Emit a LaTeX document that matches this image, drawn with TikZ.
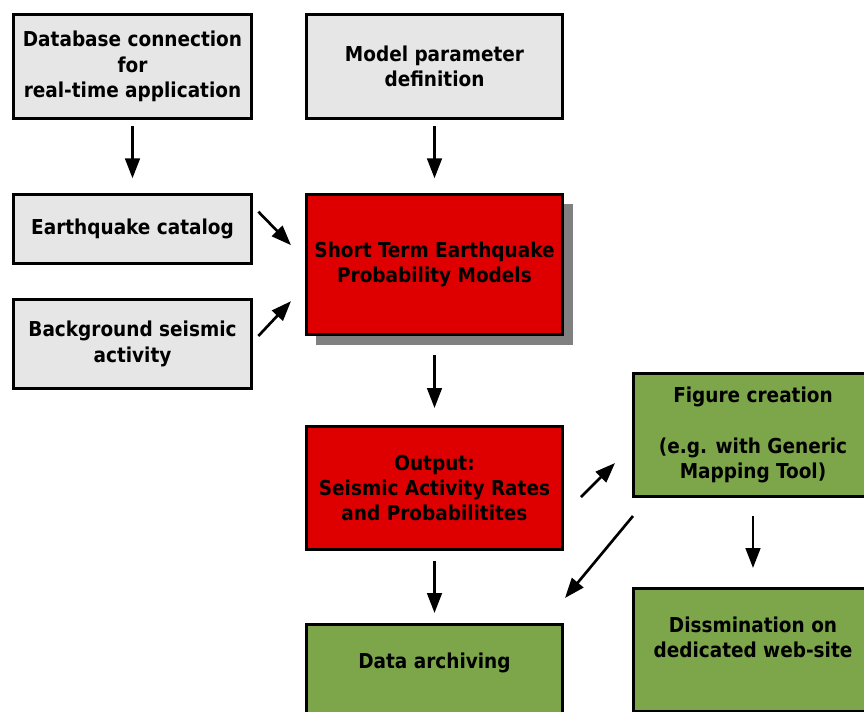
\documentclass[tikz,border=0pt]{standalone}
\usepackage{fontspec}
\IfFontExistsTF{DejaVu Sans Condensed}
  {\setmainfont{DejaVu Sans Condensed}}
  {\setmainfont{DejaVu Sans}}
\usepackage{xcolor}
\usepackage{tikz}
\usetikzlibrary{arrows.meta,positioning,calc,shadows}

\definecolor{inputgrey}{HTML}{E6E6E6}
\definecolor{modelred}{HTML}{DE0000}
\definecolor{productgreen}{HTML}{7DA64A}
\definecolor{shadowgrey}{HTML}{808080}

\begin{document}
\begin{tikzpicture}[
  font=\fontsize{15.4}{19}\selectfont\bfseries,
  >={Triangle[length=15pt,width=11pt]},
  stage/.style={draw,line width=2pt,align=center,inner sep=2pt},
  inbox/.style={stage,fill=inputgrey,minimum width=178.75pt},
  modelbox/.style={stage,fill=modelred,minimum width=192.25pt},
  prodbox/.style={stage,fill=productgreen,minimum height=92.5pt},
  flow/.style={->,line width=2pt},
]
\useasboundingbox (0,0) rectangle (648pt,-533.25pt);
\clip (0,0) rectangle (648pt,-533.25pt);

% inputs
\node[inbox,minimum height=78.25pt,anchor=north west] (db) at (9pt,-9.75pt)
  {Database connection\\for\\real-time application};
\node[inbox,minimum width=192.25pt,minimum height=78.25pt,right=39pt of db.north east,anchor=north west] (par)
  {Model parameter\\definition};
\node[inbox,minimum height=52pt,below=54.75pt of db.south west,anchor=north west] (cat)
  {Earthquake catalog};
\node[inbox,minimum height=67pt,below=24.75pt of cat.south west,anchor=north west] (bg)
  {Background seismic\\activity};

% model and output
\node[modelbox,minimum height=105.25pt,
  drop shadow={shadow xshift=7.5pt,shadow yshift=-7.5pt,fill=shadowgrey,opacity=1},
  below=54.75pt of par.south west,anchor=north west] (step)
  {Short Term Earthquake\\Probability Models};
\node[modelbox,minimum height=92.5pt,below=66.75pt of step.south west,anchor=north west] (out)
  {Output:\\Seismic Activity Rates\\and Probabilitites};

% products
\node[prodbox,minimum width=192.25pt,below=54pt of out.south west,anchor=north west] (arch)
  {Data archiving\\\mbox{}\\\mbox{}};
\node[prodbox,minimum width=179.5pt,above right=39.75pt and 51pt of out.north east,anchor=north west] (fig)
  {Figure creation\\\mbox{}\\(e.g. with Generic\\Mapping Tool)};
\node[prodbox,minimum width=179.5pt,below=66.75pt of fig.south west,anchor=north west] (diss)
  {Dissmination on\\dedicated web-site\\\mbox{}};

\draw[flow,shorten <=4.5pt,shorten >=11pt] (db.south) -- (cat.north);
\draw[flow,shorten <=4.5pt,shorten >=11pt] (par.south) -- (step.north);
\draw[flow] ($(cat.east)+(4pt,13pt)$) -- ($(step.west)+(-10.5pt,14.5pt)$);
\draw[flow] ($(bg.east)+(4pt,6pt)$) -- ($(step.west)+(-10.5pt,-27.5pt)$);
\draw[flow,shorten <=14.25pt,shorten >=12.75pt] (step.south) -- (out.north);
\draw[flow] ($(out.east)+(12.75pt,-6.75pt)$) -- ($(fig.west)+(-12.75pt,-21pt)$);
\draw[flow] ($(fig.south west)+(0.75pt,-13.5pt)$) -- ($(arch.north east)+(0.75pt,18.75pt)$);
\draw[flow,shorten <=7.5pt,shorten >=7.5pt] (out.south) -- (arch.north);
\draw[flow,shorten <=13.5pt,shorten >=14.25pt] (fig.south) -- (diss.north);
\end{tikzpicture}
\end{document}
